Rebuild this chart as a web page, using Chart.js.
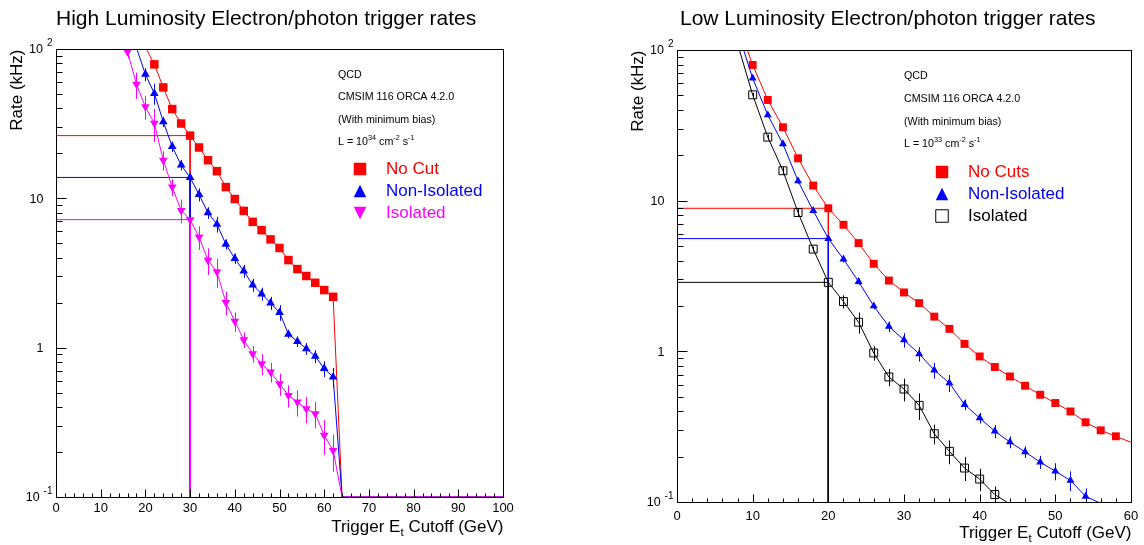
<!DOCTYPE html>
<html>
<head>
<meta charset="utf-8">
<script src="https://cdn.jsdelivr.net/npm/chart.js@4.4.1/dist/chart.umd.min.js"></script>
<style>
  html, body { margin: 0; padding: 0; background: #fff; }
  #wrap { position: relative; width: 1144px; height: 545px; }
  canvas { position: absolute; top: 0; }
</style>
</head>
<body>
<div id="wrap">
  <canvas id="hiLumi" width="572" height="545" style="left:0"></canvas>
  <canvas id="loLumi" width="572" height="545" style="left:572px"></canvas>
</div>
<script>
const FONT = "'Liberation Sans', Arial, Helvetica, sans-serif";
const Y_MIN = 0.1, Y_MAX = 100;

// ---- high luminosity panel (rates in kHz vs Et cut in GeV)
const hiEt = [14, 16, 18, 20, 22, 24, 26, 28, 30, 32, 34, 36, 38, 40, 42, 44, 46, 48, 50, 52, 54, 56, 58, 60, 62];
const hiNoCut = [null, null, 160, 103, 78.9, 55.3, 39.6, 31.7, 26.3, 21.9, 18.0, 15.2, 11.9, 9.9, 8.24, 6.96, 6.12, 5.31, 4.65, 3.86, 3.36, 3.02, 2.72, 2.43, 2.19];
const hiNoCutErr = [0, 0, 0, 0, 0.03, 0.03, 0.03, 0.03, 0.03, 0.03, 0.03, 0.03, 0.03, 0.03, 0.03, 0.03, 0.03, 0.03, 0.03, 0.03, 0.03, 0.03, 0.03, 0.03, 0.03];
const hiNonIso = [null, 170, 102, 67.7, 50.4, 32.6, 22.2, 16.7, 13.8, 10.6, 8.0, 6.7, 4.93, 3.95, 3.26, 2.63, 2.29, 1.99, 1.72, 1.23, 1.10, 0.985, 0.875, 0.724, 0.636];
const hiNonIsoErr = [0, 0, 0, 0.10, 0.16, 0.08, 0.08, 0.08, 0.05, 0.10, 0.09, 0.12, 0.08, 0.08, 0.10, 0.10, 0.10, 0.10, 0.12, 0.06, 0.08, 0.09, 0.10, 0.12, 0.15];
const hiIso = [118, 96, 58, 41, 31.8, 18.0, 11.9, 8.3, 7.2, 5.5, 3.85, 3.22, 2.01, 1.50, 1.13, 0.91, 0.78, 0.687, 0.574, 0.479, 0.432, 0.390, 0.361, 0.259, 0.205];
const hiIsoErr = [0, 0.10, 0.20, 0.18, 0.25, 0.15, 0.13, 0.18, 0.08, 0.18, 0.20, 0.22, 0.18, 0.15, 0.12, 0.13, 0.16, 0.15, 0.17, 0.17, 0.20, 0.20, 0.20, 0.26, 0.28];
// bins with zero rate, drawn on the lower edge of the log axis
const hiZeroEt = [64, 66, 68, 70, 72, 74, 76, 78, 80, 82, 84, 86, 88, 90, 92, 94, 96, 98, 100];
const hiCut = 30;

// ---- low luminosity panel
const loEt = [8, 10, 12, 14, 16, 18, 20, 22, 24, 26, 28, 30, 32, 34, 36, 38, 40, 42, 44, 46, 48, 50, 52, 54, 56, 58, 60];
const loNoCut = [152, 79.6, 46.6, 30.7, 19.1, 12.6, 8.9, 6.92, 5.23, 3.81, 2.95, 2.46, 2.09, 1.70, 1.41, 1.12, 0.925, 0.787, 0.681, 0.591, 0.515, 0.454, 0.399, 0.338, 0.299, 0.273, 0.249];
const loNoCutErr = [0, 0.03, 0.03, 0.03, 0.03, 0.03, 0.03, 0.03, 0.03, 0.03, 0.03, 0.03, 0.03, 0.03, 0.03, 0.03, 0.03, 0.03, 0.03, 0.03, 0.03, 0.03, 0.03, 0.03, 0.03, 0.03, 0];
const loNonIso = [134, 64.9, 37.0, 23.8, 13.5, 8.59, 5.6, 4.09, 2.90, 2.00, 1.46, 1.19, 0.96, 0.75, 0.616, 0.443, 0.361, 0.295, 0.250, 0.215, 0.184, 0.160, 0.139, 0.109, 0.098, null, null];
const loNonIsoErr = [0, 0.04, 0.04, 0.04, 0.04, 0.04, 0.04, 0.05, 0.05, 0.05, 0.08, 0.11, 0.11, 0.12, 0.13, 0.08, 0.08, 0.10, 0.09, 0.09, 0.10, 0.13, 0.15, 0.13, 0, 0, 0];
const loIso = [110, 50.4, 26.4, 15.8, 8.34, 4.77, 2.87, 2.14, 1.56, 0.975, 0.676, 0.562, 0.438, 0.284, 0.217, 0.168, 0.142, 0.112, 0.097, null, null, null, null, null, null, null, null];
const loIsoErr = [0, 0.03, 0.04, 0.06, 0.06, 0.04, 0.04, 0.10, 0.16, 0.11, 0.13, 0.17, 0.20, 0.15, 0.18, 0.18, 0.17, 0.13, 0, 0, 0, 0, 0, 0, 0, 0, 0];
const loCut = 20;

// ---- axis labels
const yTickValues = [0.1, 1, 10, 100];
const yTickLabels = [['10', '-1'], ['1', ''], ['10', ''], ['10', '2']];
const hiXTicks = [0, 10, 20, 30, 40, 50, 60, 70, 80, 90, 100];
const loXTicks = [0, 10, 20, 30, 40, 50, 60];

function shown(pt, xMax) {
  return pt && pt.y > Y_MIN && pt.y <= Y_MAX && pt.x < xMax;
}

function drawMarker(ctx, kind, color, x, y, s) {
  ctx.save();
  ctx.fillStyle = color;
  ctx.strokeStyle = color;
  ctx.lineWidth = 1;
  ctx.beginPath();
  if (kind === 'square' || kind === 'open') {
    ctx.rect(x - s / 2, y - s / 2, s, s);
  } else if (kind === 'up') {
    ctx.moveTo(x, y - s / 2); ctx.lineTo(x + s / 2, y + s / 2); ctx.lineTo(x - s / 2, y + s / 2); ctx.closePath();
  } else {
    ctx.moveTo(x, y + s / 2); ctx.lineTo(x + s / 2, y - s / 2); ctx.lineTo(x - s / 2, y - s / 2); ctx.closePath();
  }
  if (kind === 'open') { ctx.fillStyle = '#fff'; ctx.fill(); ctx.stroke(); } else ctx.fill();
  ctx.restore();
}

// text made of pieces, some raised or lowered (shift in units of font size)
function partsWidth(ctx, parts, size) {
  let w = 0;
  parts.forEach(([txt, shift]) => {
    ctx.font = (shift ? size * 0.68 : size) + 'px ' + FONT;
    w += ctx.measureText(txt).width;
  });
  return w;
}
function richText(ctx, parts, x, y, size) {
  parts.forEach(([txt, shift]) => {
    ctx.font = (shift ? size * 0.68 : size) + 'px ' + FONT;
    ctx.fillText(txt, x, y + (shift || 0) * size);
    x += ctx.measureText(txt).width;
  });
  return x;
}

const rootStyle = {
  id: 'rootStyle',
  beforeDatasetsDraw(chart, args, o) {
    const { ctx, chartArea: a, scales: { x, y } } = chart;
    ctx.save();
    ctx.beginPath();
    ctx.rect(a.left, a.top, a.right - a.left, a.bottom - a.top);
    ctx.clip();
    ctx.lineWidth = 1;
    chart.data.datasets.forEach(ds => {
      if (!ds.errorBars) return;
      ctx.strokeStyle = ds.borderColor;
      ds.data.forEach(pt => {
        if (!pt.e || !shown(pt, o.xMax)) return;
        const px = Math.round(x.getPixelForValue(pt.x)) + 0.5;
        ctx.beginPath();
        ctx.moveTo(px, y.getPixelForValue(pt.y * (1 - pt.e)));
        ctx.lineTo(px, y.getPixelForValue(pt.y * (1 + pt.e)));
        ctx.stroke();
      });
    });
    ctx.restore();
  },
  afterDraw(chart, args, o) {
    const { ctx, chartArea: a, scales: { x, y } } = chart;
    const L = Math.round(a.left) + 0.5, R = Math.round(a.right) + 0.5;
    const T = Math.round(a.top) + 0.5, B = Math.round(a.bottom) + 0.5;
    ctx.save();
    ctx.strokeStyle = '#000';
    ctx.fillStyle = '#000';
    ctx.lineWidth = 1;
    ctx.strokeRect(L, T, R - L, B - T);

    // x ticks
    ctx.beginPath();
    for (let v = 0; v <= o.xMax; v += 2) {
      const px = Math.round(x.getPixelForValue(v)) + 0.5;
      const len = v % 10 === 0 ? 8 : 4;
      ctx.moveTo(px, B); ctx.lineTo(px, B - len);
    }
    // y ticks (log)
    for (let d = -1; d <= 1; d++) {
      for (let m = 1; m <= 9; m++) {
        const v = m * Math.pow(10, d);
        const py = Math.round(y.getPixelForValue(v)) + 0.5;
        ctx.moveTo(L, py); ctx.lineTo(L + (m === 1 ? 10 : 6), py);
      }
    }
    ctx.stroke();

    // x tick labels
    ctx.font = '13px ' + FONT;
    ctx.textAlign = 'center';
    ctx.textBaseline = 'middle';
    o.xTicks.forEach(v => ctx.fillText(String(v), x.getPixelForValue(v), B + o.xLabelOffset));

    // y tick labels
    yTickValues.forEach((v, i) => {
      const [base, sup] = yTickLabels[i];
      const py = y.getPixelForValue(v);
      ctx.textBaseline = 'middle';
      if (sup) {
        ctx.font = '10px ' + FONT;
        const ws = ctx.measureText(sup).width;
        const supX = L - 4 - ws;
        ctx.textAlign = 'left';
        ctx.fillText(sup, supX, py - 6);
        ctx.font = '12.5px ' + FONT;
        ctx.textAlign = 'right';
        ctx.fillText(base, supX - 4, py + 1);
      } else {
        ctx.font = '12.5px ' + FONT;
        ctx.textAlign = 'right';
        ctx.fillText(base, L - 13, py + 1);
      }
    });

    // title
    ctx.font = '21px ' + FONT;
    ctx.textAlign = 'left';
    ctx.textBaseline = 'middle';
    ctx.fillText(o.title, o.titleX, 19);

    // y title
    ctx.save();
    ctx.translate(o.yTitleX, T);
    ctx.rotate(-Math.PI / 2);
    ctx.font = '17px ' + FONT;
    ctx.textAlign = 'right';
    ctx.textBaseline = 'middle';
    ctx.fillText('Rate (kHz)', 0, 0);
    ctx.restore();

    // x title, right aligned with frame
    ctx.textAlign = 'left';
    ctx.textBaseline = 'middle';
    const xParts = [['Trigger E', 0], ['t', 0.3], [' Cutoff (GeV)', 0]];
    richText(ctx, xParts, R - partsWidth(ctx, xParts, 17), B + o.xTitleOffset, 17);

    // info text
    o.info.forEach((line, i) => richText(ctx, line, o.infoX, o.infoY[i], 10.7));

    // legend
    o.legend.forEach((e, i) => {
      const ly = o.legendY[i];
      drawMarker(ctx, e.kind, e.color, o.legendX, ly, 12.5);
      ctx.font = '17px ' + FONT;
      ctx.fillStyle = e.textColor;
      ctx.textAlign = 'left';
      ctx.fillText(e.label, o.legendTextX, ly);
    });
    ctx.restore();
  }
};

function makePanel(id, p) {
  const datasets = [];
  p.series.forEach((s, i) => {
    const pts = [];
    p.et.forEach((xv, k) => {
      if (s.values[k] != null) pts.push({ x: xv, y: s.values[k], e: s.err[k] });
    });
    (p.zeroEt || []).forEach(xv => pts.push({ x: xv, y: Y_MIN, e: 0 }));
    datasets.push({
      data: pts,
      showLine: true,
      borderColor: s.color,
      borderWidth: 1,
      tension: 0,
      errorBars: true,
      pointStyle: s.pointStyle,
      pointRotation: s.rotation || 0,
      pointBackgroundColor: s.open ? 'rgba(255,255,255,0)' : s.color,
      pointBorderColor: s.color,
      pointBorderWidth: s.open ? 1 : 0,
      pointRadius: ctx => shown(ctx.raw, p.xMax) ? s.radius : 0,
      order: 3 - i
    });
    // reference lines at the chosen cut
    const v = s.values[p.et.indexOf(p.cut)];
    datasets.push({
      data: [{ x: 0, y: v }, { x: p.cut, y: v }, { x: p.cut, y: Y_MIN }],
      showLine: true,
      borderColor: s.color,
      borderWidth: 1,
      pointRadius: 0,
      order: 13 - i
    });
  });

  return new Chart(document.getElementById(id), {
    type: 'scatter',
    data: { datasets },
    options: {
      animation: false,
      responsive: false,
      devicePixelRatio: 1,
      events: [],
      layout: { padding: p.padding },
      scales: {
        x: { type: 'linear', min: 0, max: p.xMax, display: false },
        y: { type: 'logarithmic', min: Y_MIN, max: Y_MAX, display: false }
      },
      plugins: {
        legend: { display: false },
        tooltip: { enabled: false },
        rootStyle: p.style
      }
    },
    plugins: [rootStyle]
  });
}

makePanel('hiLumi', {
  et: hiEt, zeroEt: hiZeroEt, cut: hiCut, xMax: 100,
  padding: { left: 56, top: 49, right: 69, bottom: 48 },
  series: [
    { values: hiNoCut, err: hiNoCutErr, color: '#ff0000', pointStyle: 'rect', radius: 6 },
    { values: hiNonIso, err: hiNonIsoErr, color: '#0000ff', pointStyle: 'triangle', radius: 5 },
    { values: hiIso, err: hiIsoErr, color: '#ff00ff', pointStyle: 'triangle', rotation: 180, radius: 5 }
  ],
  style: {
    xMax: 100, xTicks: hiXTicks, xLabelOffset: 11, xTitleOffset: 30,
    title: 'High Luminosity Electron/photon trigger rates', titleX: 56, yTitleX: 17,
    infoX: 338, infoY: [75, 97, 120, 142],
    info: [
      [['QCD', 0]],
      [['CMSIM 116 ORCA 4.2.0', 0]],
      [['(With minimum bias)', 0]],
      [['L = 10', 0], ['34', -0.35], [' cm', 0], ['-2', -0.35], [' s', 0], ['-1', -0.35]]
    ],
    legendX: 360, legendTextX: 386, legendY: [169, 191, 213],
    legend: [
      { kind: 'square', color: '#ff0000', textColor: '#ff0000', label: 'No Cut' },
      { kind: 'up', color: '#0000ff', textColor: '#0000ff', label: 'Non-Isolated' },
      { kind: 'down', color: '#ff00ff', textColor: '#ff00ff', label: 'Isolated' }
    ]
  }
});

makePanel('loLumi', {
  et: loEt, cut: loCut, xMax: 60,
  padding: { left: 105, top: 50, right: 13, bottom: 43 },
  series: [
    { values: loNoCut, err: loNoCutErr, color: '#ff0000', pointStyle: 'rect', radius: 5.6 },
    { values: loNonIso, err: loNonIsoErr, color: '#0000ff', pointStyle: 'triangle', radius: 4.6 },
    { values: loIso, err: loIsoErr, color: '#000000', pointStyle: 'rect', radius: 5.6, open: true }
  ],
  style: {
    xMax: 60, xTicks: loXTicks, xLabelOffset: 14, xTitleOffset: 31,
    title: 'Low Luminosity Electron/photon trigger rates', titleX: 108, yTitleX: 66,
    infoX: 332, infoY: [76, 99, 122, 144],
    info: [
      [['QCD', 0]],
      [['CMSIM 116 ORCA 4.2.0', 0]],
      [['(With minimum bias)', 0]],
      [['L = 10', 0], ['33', -0.35], [' cm', 0], ['-2', -0.35], [' s', 0], ['-1', -0.35]]
    ],
    legendX: 370, legendTextX: 396, legendY: [172, 194, 216],
    legend: [
      { kind: 'square', color: '#ff0000', textColor: '#ff0000', label: 'No Cuts' },
      { kind: 'up', color: '#0000ff', textColor: '#0000ff', label: 'Non-Isolated' },
      { kind: 'open', color: '#000000', textColor: '#000000', label: 'Isolated' }
    ]
  }
});
</script>
</body>
</html>
